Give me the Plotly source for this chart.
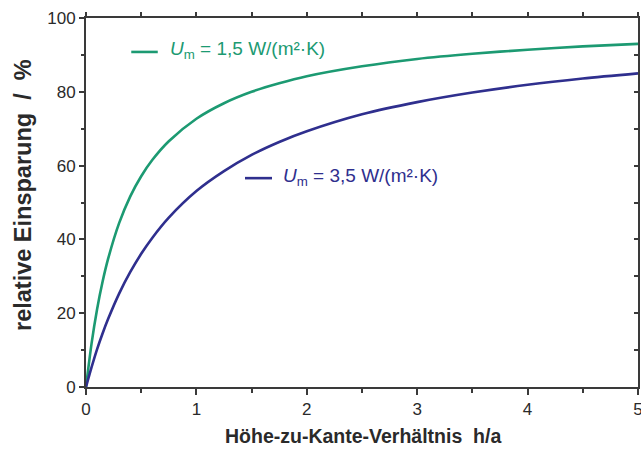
import plotly.graph_objects as go

# Data
h_a = [0, 0.05, 0.1, 0.15, 0.2, 0.3, 0.4, 0.5, 0.6, 0.75, 1.0, 1.25, 1.5, 1.75,
       2.0, 2.5, 3.0, 3.5, 4.0, 4.5, 5.0]
saving_um15 = [0, 11.7, 21.0, 28.5, 34.7, 44.4, 51.6, 57.1, 61.5, 66.6, 72.7, 76.9,
               80.0, 82.3, 84.2, 86.9, 88.9, 90.3, 91.4, 92.3, 93.0]
saving_um35 = [0, 5.3, 10.2, 14.5, 18.4, 25.3, 31.1, 36.1, 40.4, 45.9, 53.1, 58.5,
               62.9, 66.4, 69.3, 73.9, 77.2, 79.8, 81.9, 83.6, 85.0]
series_names = ["<i>U</i><sub>m</sub> = 1,5 W/(m²·K)", "<i>U</i><sub>m</sub> = 3,5 W/(m²·K)"]
x_ticks = [0, 1, 2, 3, 4, 5]
y_ticks = [0, 20, 40, 60, 80, 100]

GREEN = "#1c9a72"
BLUE = "#2f2f8e"
AXC = "#3a3a3a"
TXT = "#2a2a2a"
FONT = "Liberation Sans, Arial, sans-serif"

fig = go.Figure()
fig.add_trace(go.Scatter(x=h_a, y=saving_um15, mode="lines", name=series_names[0],
                         line=dict(color=GREEN, width=2.6, shape="spline", smoothing=0.8),
                         showlegend=False))
fig.add_trace(go.Scatter(x=h_a, y=saving_um35, mode="lines", name=series_names[1],
                         line=dict(color=BLUE, width=2.6, shape="spline", smoothing=0.8),
                         showlegend=False))
# invisible helper trace for the mirrored top/right axes
fig.add_trace(go.Scatter(x=[None], y=[None], xaxis="x2", yaxis="y2", showlegend=False,
                         hoverinfo="skip"))

fig.update_layout(
    width=641, height=449,
    margin=dict(l=86, r=3, t=18, b=62, autoexpand=False),
    paper_bgcolor="white", plot_bgcolor="white",
    font=dict(family=FONT, color=TXT, size=16),
    xaxis=dict(range=[0, 5], tickvals=x_ticks, ticks="outside", ticklen=6, tickwidth=1.5,
               tickcolor=AXC, showline=True, linecolor=AXC, linewidth=1.8, showgrid=False,
               zeroline=False, tickfont=dict(size=17, color=TXT), ticklabeloverflow="allow",
               automargin=False,
               minor=dict(dtick=0.5, ticks="outside", ticklen=4, tickwidth=1.5, tickcolor=AXC,
                          showgrid=False)),
    yaxis=dict(range=[0, 100], tickvals=y_ticks, ticks="outside", ticklen=5, tickwidth=1.5,
               tickcolor=AXC, showline=True, linecolor=AXC, linewidth=1.8, showgrid=False,
               zeroline=False, tickfont=dict(size=17, color=TXT), automargin=False,
               minor=dict(dtick=10, ticks="outside", ticklen=3, tickwidth=1.5, tickcolor=AXC,
                          showgrid=False)),
    xaxis2=dict(range=[0, 5], overlaying="x", side="top", anchor="y2", dtick=0.5,
                ticks="outside", ticklen=4, tickwidth=1.5, tickcolor=AXC, showticklabels=False,
                showline=True, linecolor=AXC, linewidth=1.8, showgrid=False, zeroline=False,
                automargin=False),
    yaxis2=dict(range=[0, 100], overlaying="y", side="right", anchor="x2", dtick=10,
                ticks="inside", ticklen=4, tickwidth=1.5, tickcolor=AXC, showticklabels=False,
                showline=True, linecolor=AXC, linewidth=1.8, showgrid=False, zeroline=False,
                automargin=False),
)

# legend-like labels inside the plot
fig.add_shape(type="line", x0=0.41, x1=0.65, y0=90.8, y1=90.8, xref="x", yref="y",
              line=dict(color=GREEN, width=2.6))
fig.add_annotation(x=0.74, y=91.2, xref="x", yref="y", text=series_names[0],
                   showarrow=False, xanchor="left", yanchor="middle",
                   font=dict(size=19, color=GREEN))
fig.add_shape(type="line", x0=1.44, x1=1.685, y0=56.6, y1=56.6, xref="x", yref="y",
              line=dict(color=BLUE, width=2.6))
fig.add_annotation(x=1.77, y=57.0, xref="x", yref="y", text=series_names[1],
                   showarrow=False, xanchor="left", yanchor="middle",
                   font=dict(size=19, color=BLUE))

# axis titles
fig.add_annotation(x=(363 - 86) / 552, y=(387 - 436) / 369, xref="paper", yref="paper",
                   text="<b>Höhe-zu-Kante-Verhältnis\u00a0\u00a0h/a</b>", showarrow=False,
                   xanchor="center", yanchor="middle", font=dict(size=19.5, color=TXT))
fig.add_annotation(x=(23 - 86) / 552, y=(387 - 195) / 369, xref="paper", yref="paper",
                   textangle=-90,
                   text="<b>relative Einsparung\u00a0\u00a0/\u00a0\u00a0%</b>",
                   showarrow=False, xanchor="center", yanchor="middle",
                   font=dict(size=23.5, color=TXT))

fig.write_html("out.html", config={"displayModeBar": False},
               post_script="document.body.style.margin='0px';")
